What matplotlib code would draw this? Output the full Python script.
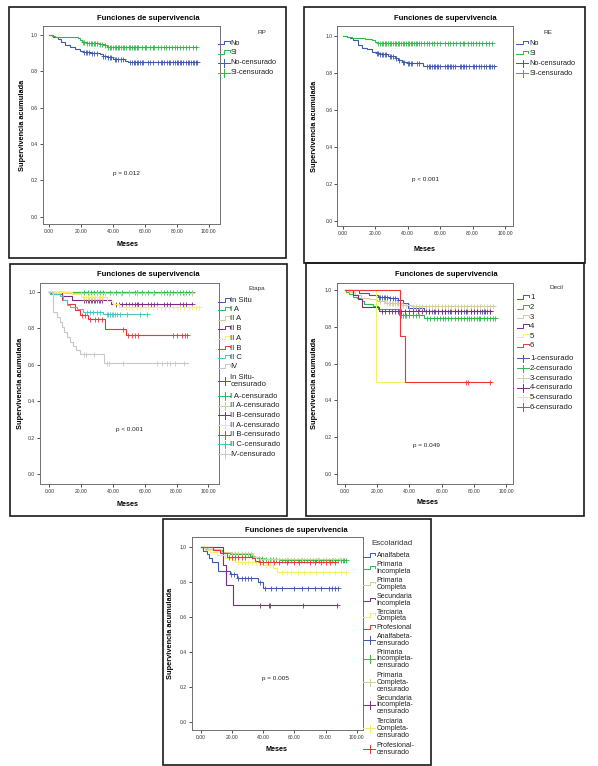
import numpy as np
import matplotlib
matplotlib.use("Agg")
import matplotlib.pyplot as plt
from matplotlib.lines import Line2D
from matplotlib.patches import Rectangle

plt.rcParams['font.family'] = ['Liberation Sans', 'DejaVu Sans']

# ---------------- colours (SPSS default palette) ----------------
BLUE, GREEN, BEIGE, PURPLE = '#3e58ac', '#2eb848', '#d3ce97', '#7c2a84'
YELLOW, RED, TEAL, GRAY = '#f4f064', '#ef3338', '#48c3c8', '#c8c8c8'

# ---------------- data ----------------
x_ticks = [0, 20, 40, 60, 80, 100]
y_ticks = [0.0, 0.2, 0.4, 0.6, 0.8, 1.0]

# Panel RP
rp_no_t = [0, 2.5, 5.6, 7.7, 9.8, 13, 16.1, 19.3, 21.4, 25.6, 31.8, 33.9, 36, 40.2, 44.4, 47.5, 49.6]
rp_no_s = [1.0, 0.99, 0.976, 0.963, 0.945, 0.936, 0.921, 0.914, 0.908, 0.903, 0.895, 0.884, 0.877, 0.87, 0.866, 0.859, 0.853]
rp_no_end = 93
rp_no_cens = [22, 23, 24, 25, 27, 28, 30, 34, 35, 37, 38, 39, 41, 42, 43, 45, 46, 51, 52, 53, 54, 55, 56, 57, 58,
              59, 62, 63, 65, 68, 70, 71, 72, 74, 75, 76, 78, 79, 80, 81, 82, 83, 84, 86, 87, 88, 89, 90, 91, 92, 93]
rp_si_t = [0, 1.5, 3.6, 18.2, 19.3, 20.3, 23.5, 31.8, 33.9, 36]
rp_si_s = [1.0, 0.994, 0.987, 0.982, 0.972, 0.963, 0.958, 0.95, 0.943, 0.936]
rp_si_end = 93
rp_si_cens = [21, 22, 24, 25, 26, 27, 28, 29, 30, 32, 33, 35, 37, 38, 39, 40, 41, 42, 43, 44, 45, 46, 47, 48, 50,
              51, 52, 53, 54, 55, 56, 58, 60, 61, 63, 65, 66, 68, 70, 72, 73, 75, 77, 79, 80, 82, 84, 86, 88, 90, 92]

# Panel RE
re_no_t = [0, 2.4, 4.5, 6.5, 9.6, 11.7, 14.7, 17.8, 20.9, 22.9, 28.1, 32.2, 34.3, 36.3, 39.4, 44.5, 49.7]
re_no_s = [1.0, 0.991, 0.986, 0.975, 0.95, 0.932, 0.925, 0.914, 0.905, 0.899, 0.892, 0.877, 0.868, 0.86, 0.854, 0.85, 0.838]
re_no_end = 94
re_no_cens = [21, 22, 23, 24, 25, 26, 27, 29, 30, 31, 33, 35, 37, 38, 40, 41, 42, 43, 46, 47, 52, 53, 54, 55, 56,
              57, 58, 59, 60, 63, 64, 65, 66, 67, 68, 69, 72, 73, 74, 75, 76, 78, 80, 81, 82, 84, 85, 87, 88, 90, 91, 92, 93]
re_si_t = [0, 2.4, 5.5, 13.7, 17.8, 19.9, 21.3, 22.9]
re_si_s = [1.0, 0.995, 0.989, 0.984, 0.977, 0.968, 0.962, 0.959]
re_si_end = 92
re_si_cens = [22, 23, 24, 25, 26, 27, 28, 29, 30, 31, 32, 33, 34, 35, 36, 37, 38, 39, 40, 41, 42, 43, 44, 45, 46,
              47, 48, 50, 52, 53, 55, 56, 58, 60, 63, 65, 66, 68, 70, 72, 74, 75, 77, 79, 80, 82, 84, 86, 88, 90, 92]

# Panel Etapa
et_labels = ['In Situ', 'I A', 'II A', 'II B', 'II A', 'II B', 'II C', 'IV']
et_insitu_t, et_insitu_s, et_insitu_end, et_insitu_cens = [0], [1.0], 60, [30, 55]
et_ia_t, et_ia_s, et_ia_end = [0], [1.0], 90
et_ia_cens = [22, 24, 26, 28, 30, 32, 34, 38, 42, 46, 50, 54, 55, 58, 62, 66, 70, 72, 74, 76, 78, 80, 82, 84, 86, 88, 90]
et_iia_t, et_iia_s, et_iia_end = [0, 10], [1.0, 0.99], 90
et_iia_cens = [20, 25, 30, 35, 40, 45, 50, 55, 60, 65, 70, 75, 80, 85, 90]
et_iib_t, et_iib_s, et_iib_end = [0, 7.8, 14, 39], [1.0, 0.975, 0.952, 0.932], 90
et_iib_cens = [22, 23, 24, 25, 26, 27, 28, 29, 30, 31, 32, 33, 42, 44, 46, 48, 50, 52, 54, 55, 56, 58, 62, 64,
               66, 68, 72, 74, 76, 82, 84, 86, 90]
et_iiia_t, et_iiia_s, et_iiia_end = [0, 14, 20, 36, 40, 44], [1.0, 0.985, 0.97, 0.95, 0.93, 0.918], 94
et_iiia_cens = [21, 22, 23, 24, 25, 26, 27, 28, 29, 30, 31, 32, 33, 34, 45, 48, 50, 52, 55, 57, 60, 62, 65, 68,
                70, 73, 75, 78, 80, 82, 85, 88, 90, 92, 94]
et_iiib_t = [0, 1, 7.8, 10.9, 16.1, 19.3, 24.5, 35, 48.5]
et_iiib_s = [1.0, 0.985, 0.955, 0.93, 0.9, 0.869, 0.849, 0.794, 0.763]
et_iiib_end = 87
et_iiib_cens = [20.5, 22.6, 25.6, 28.7, 30.8, 32.9, 46.6, 49.7, 51.8, 53.9, 56, 78, 80, 83.3, 85.3, 86.4]
et_iiic_t = [0, 0.5, 6.7, 8.8, 10.9, 13, 17.2, 21.4, 34]
et_iiic_s = [1.0, 0.985, 0.976, 0.955, 0.927, 0.918, 0.903, 0.89, 0.876]
et_iiic_end = 62
et_iiic_cens = [23.5, 25.6, 27.7, 29.8, 31.9, 36, 37.1, 38.2, 39.2, 40.3, 41.3, 42.4, 44.5, 48.7, 57.1, 61.2]
et_iv_t = [0, 2.5, 4.6, 6.5, 8, 9.5, 11, 13, 15, 17, 19, 34.4]
et_iv_s = [1.0, 0.89, 0.863, 0.836, 0.808, 0.78, 0.752, 0.726, 0.70, 0.68, 0.657, 0.611]
et_iv_end = 87
et_iv_cens = [21.5, 23, 28, 36, 37.5, 46.6, 68, 71, 74, 76, 79, 85]

# Panel Decil
dc_labels = ['1', '2', '3', '4', '5', '6']
dc1_t = [0, 8.9, 15.1, 20.3, 27.5, 32.7, 35.8, 38.9, 49.3]
dc1_s = [1.0, 0.985, 0.976, 0.964, 0.955, 0.945, 0.933, 0.904, 0.888]
dc1_end = 91
dc1_cens = [21, 22, 23, 24, 25, 26, 28, 30, 31, 33, 34, 36, 42, 44, 46, 52, 54, 56, 58, 60, 62, 64, 66, 68, 70,
            72, 74, 76, 78, 80, 82, 84, 86, 88, 90]
dc2_t = [0, 0.5, 2.7, 4.8, 7.5, 10.6, 12, 17.2, 20.3, 33.7, 49.3]
dc2_s = [1.0, 0.99, 0.98, 0.965, 0.955, 0.94, 0.927, 0.915, 0.895, 0.864, 0.849]
dc2_end = 94
dc2_cens = [35, 36, 37, 38, 40, 42, 44, 46, 51, 53, 55, 57, 59, 61, 62, 64, 66, 68, 70, 72, 74, 76, 77, 78, 80,
            82, 83, 84, 86, 88, 90, 92, 93]
dc3_t = [0, 2.7, 6, 10, 15, 20, 25, 35, 41]
dc3_s = [1.0, 0.99, 0.975, 0.96, 0.95, 0.94, 0.93, 0.922, 0.915]
dc3_end = 93
dc3_cens = [22, 24, 26, 27, 28, 29, 30, 31, 32, 33, 34, 36, 38, 40, 42, 44, 46, 48, 50, 52, 54, 56, 58, 60, 62,
            64, 66, 68, 70, 72, 74, 76, 78, 80, 82, 84, 86, 88, 90, 92]
dc4_t = [0, 4.8, 8, 10.6, 21]
dc4_s = [1.0, 0.973, 0.951, 0.909, 0.889]
dc4_end = 90
dc4_cens = [23, 25, 27, 29, 31, 33, 35, 37, 40, 42, 45, 48, 50, 52, 55, 58, 60, 62, 65, 68, 70, 72, 75, 78, 80,
            82, 85, 87, 90]
dc5_t, dc5_s, dc5_end, dc5_cens = [0, 19.3], [1.0, 0.5], 37, []
dc6_t, dc6_s, dc6_end, dc6_cens = [0, 34.2, 37.3], [1.0, 0.751, 0.5], 90, [75, 76.2, 90]

# Panel Escolaridad
es_labels = ['Analfabeta', 'Primaria\nIncompleta', 'Primaria\nCompleta', 'Secundaria\nIncompleta',
             'Terciaria\nCompleta', 'Profesional']
es_cens_labels = ['Analfabeta-\ncensurado', 'Primaria\nIncompleta-\ncensurado', 'Primaria\nCompleta-\ncensurado',
                  'Secundaria\nIncompleta-\ncensurado', 'Terciaria\nCompleta-\ncensurado', 'Profesional-\ncensurado']
es_anal_t = [0, 1.5, 3.6, 5, 6.8, 11.1, 18.6, 22.9, 36.8, 39.5]
es_anal_s = [1.0, 0.98, 0.96, 0.94, 0.916, 0.865, 0.845, 0.826, 0.80, 0.767]
es_anal_end = 88
es_anal_cens = [19.5, 21, 24, 26, 28, 30, 32, 38, 41, 45, 48, 52, 60, 65, 69, 73, 77, 82, 84, 86, 88]
es_pinc_t = [0, 2.5, 7.9, 13.3, 18.6, 31.5, 33.6, 35.8, 40, 50.7]
es_pinc_s = [1.0, 0.99, 0.983, 0.964, 0.958, 0.949, 0.941, 0.935, 0.93, 0.926]
es_pinc_end = 93
es_pinc_cens = [20, 22, 24, 26, 28, 30, 33, 37, 39, 42, 44, 46, 48, 52, 54, 56, 58, 60, 62, 64, 66, 68, 70, 72,
                74, 76, 78, 80, 82, 84, 86, 88, 90, 91, 92, 93]
es_pcomp_t = [0, 4, 13, 20, 33.6, 37.9]
es_pcomp_s = [1.0, 0.99, 0.973, 0.968, 0.945, 0.93]
es_pcomp_end = 89
es_pcomp_cens = [20, 22, 24, 26, 28, 30, 32, 40, 45, 50, 55, 60, 65, 70, 75, 80, 85, 89]
es_sinc_t = [0, 13.9, 16.1, 20.4]
es_sinc_s = [1.0, 0.897, 0.783, 0.669]
es_sinc_end = 87
es_sinc_cens = [38, 43.5, 44.5, 65.5, 87]
es_tcomp_t = [0, 2.5, 5.8, 10.1, 15.4, 19.7, 21.8, 37.9, 40, 46.4, 49]
es_tcomp_s = [1.0, 0.985, 0.97, 0.955, 0.94, 0.925, 0.912, 0.905, 0.895, 0.88, 0.855]
es_tcomp_end = 93
es_tcomp_cens = [24, 26, 28, 30, 33, 35, 42, 44, 52, 55, 58, 62, 66, 70, 74, 78, 82, 86, 90, 93]
es_prof_t = [0, 7.9, 12.2, 16.5, 29.4, 32.6, 34.8, 36.9]
es_prof_s = [1.0, 0.983, 0.968, 0.945, 0.941, 0.935, 0.92, 0.913]
es_prof_end = 87
es_prof_cens = [18, 20, 22, 24, 26, 28, 38, 40, 43, 47, 50, 55, 60, 63, 70, 73, 77, 80, 83, 86]

# ---------------- figure helpers ----------------
W, H = 598, 766
fig = plt.figure(figsize=(W / 100, H / 100), dpi=100)
fig.patch.set_facecolor('white')


def fxy(x, y):
    return x / W, 1 - y / H


def add_box(l, t, r, b):
    fig.add_artist(Rectangle((l / W, 1 - b / H), (r - l) / W, (b - t) / H, transform=fig.transFigure,
                             fill=False, edgecolor='#1a1a1a', lw=1.2))


def px_line(xs, ys, **kw):
    fig.add_artist(Line2D([x / W for x in xs], [1 - y / H for y in ys], transform=fig.transFigure, **kw))


def km(ax, t, s, end, cens, color):
    tt = list(t) + [end]
    ss = list(s) + [s[-1]]
    ax.step(tt, ss, where='post', color=color, lw=0.8, solid_joinstyle='miter')
    if cens:
        ta = np.array(t)
        sa = np.array(s)
        c = np.array(cens, dtype=float)
        idx = np.searchsorted(ta, c, side='right') - 1
        ax.plot(c, sa[idx], ls='none', marker='+', ms=3.6, mew=0.6, color=color)


def panel(box, plot, xlim, ylim, title_xy, ylab_x, xlab_xy, ptext, p_xy,
          leg_title, leg_title_xy, leg_title_fs, entries, sym_x0, text_x, leg_fs, ls=1.0):
    add_box(*box)
    l, t, r, b = plot
    ax = fig.add_axes([l / W, 1 - b / H, (r - l) / W, (b - t) / H])
    ax.set_xlim(*xlim)
    ax.set_ylim(*ylim)
    ax.set_xticks(x_ticks)
    ax.set_xticklabels(['%.2f' % v for v in x_ticks])
    ax.set_yticks(y_ticks)
    ax.set_yticklabels(['%.1f' % v for v in y_ticks])
    ax.tick_params(length=2, width=0.6, pad=1.5, labelsize=3.6, colors='#333333', direction='out')
    for sp in ax.spines.values():
        sp.set_color('#707070')
        sp.set_linewidth(0.7)
    x, y = fxy(*title_xy)
    fig.text(x, y, 'Funciones de supervivencia', ha='center', va='center', fontsize=5.5, fontweight='bold')
    x, y = fxy(ylab_x, (t + b) / 2)
    fig.text(x, y, 'Supervivencia acumulada', ha='center', va='center', rotation=90, fontsize=5.3,
             fontweight='bold')
    x, y = fxy(*xlab_xy)
    fig.text(x, y, 'Meses', ha='center', va='center', fontsize=5.2, fontweight='bold')
    x, y = fxy(*p_xy)
    fig.text(x, y, ptext, ha='center', va='center', fontsize=4.6, color='#222222')
    x, y = fxy(*leg_title_xy)
    fig.text(x, y, leg_title, ha='center', va='center', fontsize=leg_title_fs, color='#333333')
    for label, color, kind, yc in entries:
        x0 = sym_x0
        if kind == 'step':
            px_line([x0, x0 + 6.5, x0 + 6.5, x0 + 12, x0 + 12], [yc + 1.0, yc + 1.0, yc - 2.5, yc - 2.5, yc - 0.8],
                    color=color, lw=0.7)
        else:
            px_line([x0, x0 + 12], [yc, yc], color=color, lw=0.7)
            px_line([x0 + 6.5, x0 + 6.5], [yc - 3.8, yc + 3.8], color=color, lw=0.7)
        x, y = fxy(text_x, yc)
        fig.text(x, y, label, ha='left', va='center', fontsize=leg_fs, linespacing=ls, color='#222222')
    return ax


# ---------------- Panel 1: RP ----------------
ax = panel((9, 7.3, 285.5, 258.5), (42.7, 26, 220, 224), (-4.1, 107.2), (-0.04, 1.05),
           (148, 18.3), 22.7, (127.3, 244.3), 'p = 0.012', (126.7, 173.3),
           'RP', (262, 32), 4.6,
           [('No', BLUE, 'step', 43.3), ('Si', GREEN, 'step', 52.7),
            ('No-censurado', BLUE, 'cross', 62.7), ('Si-censurado', GREEN, 'cross', 72.7)],
           217.5, 230.5, 5.3)
km(ax, rp_no_t, rp_no_s, rp_no_end, rp_no_cens, BLUE)
km(ax, rp_si_t, rp_si_s, rp_si_end, rp_si_cens, GREEN)

# ---------------- Panel 2: RE ----------------
ax = panel((304, 7.3, 585, 263.3), (337.3, 26, 513.3, 226), (-3.3, 105.1), (-0.029, 1.052),
           (445, 18.3), 315, (424, 249.3), 'p < 0.001', (426, 180),
           'RE', (548.3, 32), 4.6,
           [('No', BLUE, 'step', 43.3), ('Si', GREEN, 'step', 53.3),
            ('No-censurado', BLUE, 'cross', 63.3), ('Si-censurado', GREEN, 'cross', 73.3)],
           516, 529.7, 5.3)
km(ax, re_no_t, re_no_s, re_no_end, re_no_cens, BLUE)
km(ax, re_si_t, re_si_s, re_si_end, re_si_cens, GREEN)

# ---------------- Panel 3: Etapa ----------------
et_colors = [BLUE, GREEN, BEIGE, PURPLE, YELLOW, RED, TEAL, GRAY]
et_y_step = [300.7, 309.3, 318.7, 328.3, 338, 348, 357.3, 366.7]
et_y_cens = [381.2, 396, 405.7, 415.3, 425, 434.7, 444.3, 454]
entries = [(lab, c, 'step', y) for lab, c, y in zip(et_labels, et_colors, et_y_step)]
cens_labels = ['In Situ-\ncensurado'] + [lab + '-censurado' for lab in et_labels[1:]]
entries += [(lab, c, 'cross', y) for lab, c, y in zip(cens_labels, et_colors, et_y_cens)]
ax = panel((10, 264, 287.3, 515.7), (40, 283.3, 219.3, 484), (-5.9, 106.9), (-0.053, 1.045),
           (148, 275), 21, (127.3, 504.3), 'p < 0.001', (129.3, 429),
           'Etapa', (256.7, 288.7), 4.6, entries, 218.3, 230.5, 5.5, ls=1.0)
km(ax, et_insitu_t, et_insitu_s, et_insitu_end, et_insitu_cens, BLUE)
km(ax, et_ia_t, et_ia_s, et_ia_end, et_ia_cens, GREEN)
km(ax, et_iia_t, et_iia_s, et_iia_end, et_iia_cens, BEIGE)
km(ax, et_iib_t, et_iib_s, et_iib_end, et_iib_cens, PURPLE)
km(ax, et_iiia_t, et_iiia_s, et_iiia_end, et_iiia_cens, YELLOW)
km(ax, et_iiib_t, et_iiib_s, et_iiib_end, et_iiib_cens, RED)
km(ax, et_iiic_t, et_iiic_s, et_iiic_end, et_iiic_cens, TEAL)
km(ax, et_iv_t, et_iv_s, et_iv_end, et_iv_cens, GRAY)

# ---------------- Panel 4: Decil ----------------
dc_colors = [BLUE, GREEN, BEIGE, PURPLE, YELLOW, RED]
dc_y_step = [297.7, 307.7, 317.3, 326.7, 336.3, 346]
dc_y_cens = [358.3, 368.3, 378.3, 387.7, 397.3, 407]
entries = [(lab, c, 'step', y) for lab, c, y in zip(dc_labels, dc_colors, dc_y_step)]
entries += [(lab + '-censurado', c, 'cross', y) for lab, c, y in zip(dc_labels, dc_colors, dc_y_cens)]
ax = panel((305.7, 263.3, 584, 515.7), (336.7, 282.7, 513.3, 484), (-5.2, 104.5), (-0.057, 1.041),
           (446.7, 274), 315, (427.3, 502.7), 'p = 0.049', (426.7, 445.3),
           'Decil', (556.7, 287.7), 4.6, entries, 516.7, 530, 5.6)
km(ax, dc1_t, dc1_s, dc1_end, dc1_cens, BLUE)
km(ax, dc2_t, dc2_s, dc2_end, dc2_cens, GREEN)
km(ax, dc3_t, dc3_s, dc3_end, dc3_cens, BEIGE)
km(ax, dc4_t, dc4_s, dc4_end, dc4_cens, PURPLE)
km(ax, dc5_t, dc5_s, dc5_end, dc5_cens, YELLOW)
km(ax, dc6_t, dc6_s, dc6_end, dc6_cens, RED)

# ---------------- Panel 5: Escolaridad ----------------
es_colors = [BLUE, GREEN, BEIGE, PURPLE, YELLOW, RED]
es_y_step = [555.7, 568.3, 584, 600, 615.5, 627.7]
es_y_cens = [639.7, 659, 682.3, 705, 728.3, 748.8]
entries = [(lab, c, 'step', y) for lab, c, y in zip(es_labels, es_colors, es_y_step)]
entries += [(lab, c, 'cross', y) for lab, c, y in zip(es_cens_labels, es_colors, es_y_cens)]
ax = panel((163.3, 519.3, 431, 764.5), (191.7, 536.7, 363.3, 730), (-6, 104.2), (-0.044, 1.059),
           (296.7, 531), 170.7, (276.7, 749.3), 'p = 0.005', (275, 678.3),
           'Escolaridad', (391.7, 543.3), 5.7, entries, 363.3, 376.7, 5.0, ls=0.98)
km(ax, es_anal_t, es_anal_s, es_anal_end, es_anal_cens, BLUE)
km(ax, es_pinc_t, es_pinc_s, es_pinc_end, es_pinc_cens, GREEN)
km(ax, es_pcomp_t, es_pcomp_s, es_pcomp_end, es_pcomp_cens, BEIGE)
km(ax, es_sinc_t, es_sinc_s, es_sinc_end, es_sinc_cens, PURPLE)
km(ax, es_tcomp_t, es_tcomp_s, es_tcomp_end, es_tcomp_cens, YELLOW)
km(ax, es_prof_t, es_prof_s, es_prof_end, es_prof_cens, RED)

fig.savefig('out.png', dpi=100, facecolor='white')
